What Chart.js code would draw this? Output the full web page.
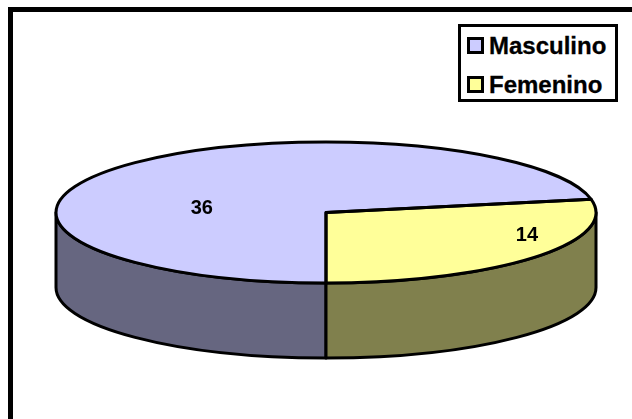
<!DOCTYPE html>
<html lang="es">
<head>
<meta charset="UTF-8">
<title>Masculino / Femenino</title>
<script src="https://cdn.jsdelivr.net/npm/chart.js@4"></script>
<style>
*{box-sizing:border-box;margin:0;padding:0}
html,body{width:632px;height:419px;overflow:hidden;background:#fff;font-family:"Liberation Sans",Arial,sans-serif}
#frame{position:absolute;left:8px;top:7px;width:624px;height:412px;border-left:5.5px solid #000;border-top:5.5px solid #000}
#grafico{position:absolute;left:0;top:0}
#leyenda{position:absolute;left:458px;top:24px;width:160px;height:78px;border:3px solid #000;background:#fff}
.item{position:absolute;left:0;height:30px;width:154px}
.caja{position:absolute;left:6px;top:6px;width:17px;height:17px;border:3px solid #000}
.txt{position:absolute;left:28px;top:0;font:bold 24px/30px "Liberation Sans",Arial,sans-serif;color:#000;white-space:nowrap;-webkit-text-stroke:0.3px #000}
</style>
</head>
<body>
<div id="frame"></div>
<canvas id="grafico" width="632" height="419"></canvas>
<div id="leyenda"></div>
<script>
// datos
const categorias=['Masculino','Femenino'];
const valores=[36,14];
const coloresTapa=['#CCCCFF','#FFFF99'];
const coloresLado=['#666680','#80804D'];

// pseudo 3D: la torta se aplasta en Y y se le pone una pared debajo
const RX=270,RY=70.5,PROF=75,GROSOR=3;
// donde caen las etiquetas, en fracciones del radio respecto al centro
const posEtiq=[[-0.46,-0.05],[0.744,0.32]];

function elipse(ctx,el,dy,a,b,ccw){
  ctx.ellipse(el.x,el.y+dy,RX,RY,0,a,b,ccw);
}

const torta3d={
  id:'torta3d',
  beforeDatasetDraw(chart){
    const ctx=chart.ctx;
    const arcos=chart.getDatasetMeta(0).data;
    ctx.save();
    ctx.lineWidth=GROSOR;
    ctx.strokeStyle='#000';
    ctx.lineJoin='round';
    arcos.forEach((el,i)=>{
      // solo se ve la pared de la mitad de abajo (0..PI, modulo 2PI)
      for(let k=-1;k<=1;k++){
        const a=Math.max(el.startAngle,2*k*Math.PI);
        const b=Math.min(el.endAngle,2*k*Math.PI+Math.PI);
        if(b<=a)continue;
        ctx.beginPath();
        elipse(ctx,el,0,a,b,false);
        elipse(ctx,el,PROF,b,a,true);
        ctx.closePath();
        ctx.fillStyle=coloresLado[i];
        ctx.fill();
        ctx.stroke();
      }
    });
    ctx.restore();
    const c=arcos[0];
    ctx.save();
    ctx.translate(0,c.y);
    ctx.scale(1,RY/RX);
    ctx.translate(0,-c.y);
  },
  afterDatasetDraw(chart){
    const ctx=chart.ctx;
    ctx.restore();
    ctx.save();
    ctx.lineWidth=GROSOR;
    ctx.strokeStyle='#000';
    ctx.lineJoin='round';
    chart.getDatasetMeta(0).data.forEach(el=>{
      ctx.beginPath();
      ctx.moveTo(el.x,el.y);
      elipse(ctx,el,0,el.startAngle,el.endAngle,false);
      ctx.closePath();
      ctx.stroke();
    });
    ctx.restore();
  },
  afterDatasetsDraw(chart){
    const ctx=chart.ctx;
    ctx.save();
    ctx.font='bold 20px "Liberation Sans", Arial, sans-serif';
    ctx.fillStyle='#000';
    ctx.textAlign='center';
    ctx.textBaseline='middle';
    chart.getDatasetMeta(0).data.forEach((el,i)=>{
      ctx.fillText(String(valores[i]),el.x+posEtiq[i][0]*RX,el.y+posEtiq[i][1]*RY);
    });
    ctx.restore();
  }
};

new Chart(document.getElementById('grafico'),{
  type:'pie',
  data:{labels:categorias,datasets:[{data:valores,backgroundColor:coloresTapa,borderWidth:0}]},
  options:{
    responsive:false,
    animation:false,
    rotation:180,
    radius:RX,
    layout:{padding:{left:20,top:6}},
    plugins:{legend:{display:false},tooltip:{enabled:false}}
  },
  plugins:[torta3d]
});

// leyenda
document.getElementById('leyenda').innerHTML=categorias.map((c,i)=>
  `<div class="item" style="top:${i?43:4}px"><span class="caja" style="background:${coloresTapa[i]}"></span><span class="txt">${c}</span></div>`
).join('');
</script>
</body>
</html>
